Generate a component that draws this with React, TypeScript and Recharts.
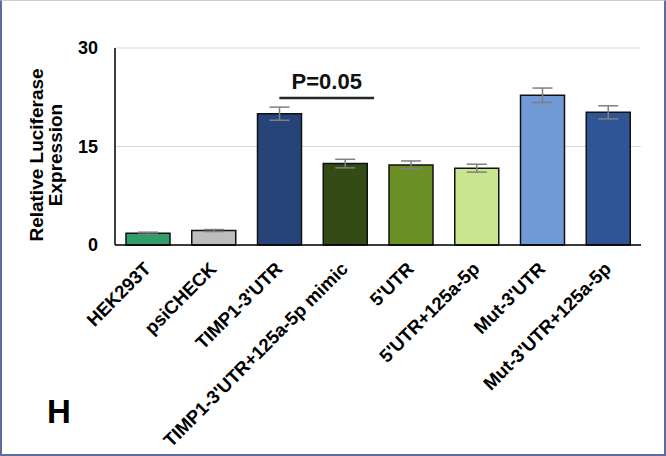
import React from 'react';
import {
  BarChart,
  Bar,
  XAxis,
  YAxis,
  CartesianGrid,
  ErrorBar,
  Cell,
  ReferenceLine,
  Label,
} from 'recharts';

const groups = [
  'HEK293T',
  'psiCHECK',
  "TIMP1-3'UTR",
  "TIMP1-3'UTR+125a-5p mimic",
  "5'UTR",
  "5'UTR+125a-5p",
  "Mut-3'UTR",
  "Mut-3'UTR+125a-5p",
];
const expression = [1.8, 2.2, 20.0, 12.4, 12.2, 11.7, 22.8, 20.2];
const errors = [0.15, 0.15, 1.0, 0.65, 0.6, 0.6, 1.1, 1.0];
const barColors = ['#2f9e6b', '#bdbdbd', '#264478', '#344b16', '#6a8f25', '#c9e590', '#709ad6', '#2f5597'];
const yTicks = [0, 15, 30];
// significance bar: from TIMP1-3'UTR centre to a bit past the mimic centre
const pFrom = groups[2];
const pTo = groups[3];
const pLevel = 22.4;
const pText = 'P=0.05';

const data = groups.map((g, i) => ({ group: g, value: expression[i], err: errors[i] }));

const FONT = 'Liberation Sans, Arial, sans-serif';

function SlantTick(props: any) {
  const { x, y, payload } = props;
  const ax = x + 4;
  const ay = y + 17;
  return (
    <text
      x={ax}
      y={ay}
      transform={`rotate(-45 ${ax} ${ay})`}
      textAnchor="end"
      fontFamily={FONT}
      fontWeight="bold"
      fontSize={18.5}
      fill="#000"
    >
      {payload.value}
    </text>
  );
}

function PBar(props: any) {
  const { x1, y1, x2 } = props;
  const end = x2 + 0.44 * (x2 - x1);
  const mid = (x1 + end) / 2;
  return (
    <g>
      <line x1={x1} y1={y1} x2={end} y2={y1} stroke="#262626" strokeWidth={2.5} />
      <text
        x={mid}
        y={y1 - 9}
        textAnchor="middle"
        fontFamily={FONT}
        fontWeight="bold"
        fontSize={22}
        fill="#111"
      >
        {pText}
      </text>
    </g>
  );
}

function YTitle() {
  const cx = 46;
  const cy = 155;
  return (
    <text
      transform={`rotate(-90 ${cx} ${cy})`}
      x={cx}
      y={cy}
      textAnchor="middle"
      fontFamily={FONT}
      fontWeight="bold"
      fontSize={19}
      fill="#000"
    >
      <tspan x={cx} dy={-3}>Relative Luciferase</tspan>
      <tspan x={cx} dy={19}>Expression</tspan>
    </text>
  );
}

export default function App() {
  return (
    <div style={{ position: 'fixed', left: 0, top: 0, width: 666, height: 456, background: '#fff' }}>
      <BarChart
        width={666}
        height={456}
        data={data}
        margin={{ top: 48, right: 25, bottom: 0, left: 0 }}
        barSize={44}
      >
        <CartesianGrid vertical={false} stroke="#d9d9d9" strokeWidth={1.2} />
        <XAxis
          dataKey="group"
          interval={0}
          height={211}
          tick={<SlantTick />}
          tickLine={false}
          axisLine={{ stroke: '#000', strokeWidth: 1.5 }}
        />
        <YAxis
          width={115}
          domain={[0, 30]}
          ticks={yTicks}
          tickLine={false}
          axisLine={{ stroke: '#000', strokeWidth: 1.5 }}
          tick={{ fontFamily: FONT, fontWeight: 'bold', fontSize: 18, fill: '#000', dx: -9 }}
        >
          <Label content={<YTitle />} />
        </YAxis>
        <Bar dataKey="value" stroke="#111" strokeWidth={1.5} isAnimationActive={false}>
          {data.map((d, i) => (
            <Cell key={d.group} fill={barColors[i]} />
          ))}
          <ErrorBar dataKey="err" width={10} stroke="#7f7f7f" strokeWidth={1.5} />
        </Bar>
        <ReferenceLine
          segment={[
            { x: pFrom, y: pLevel },
            { x: pTo, y: pLevel },
          ]}
          shape={<PBar />}
        />
      </BarChart>
      <div
        style={{
          position: 'absolute',
          left: 47,
          top: 393,
          fontFamily: FONT,
          fontWeight: 'bold',
          fontSize: 33,
          lineHeight: '38px',
          color: '#000',
        }}
      >
        H
      </div>
      <div
        style={{
          position: 'absolute',
          inset: 0,
          boxSizing: 'border-box',
          borderLeft: '2px solid #5d6c9c',
          borderRight: '2px solid #5d6c9c',
          borderBottom: '2px solid #5d6c9c',
          borderTop: '1px solid #c8cde0',
          pointerEvents: 'none',
        }}
      />
    </div>
  );
}
